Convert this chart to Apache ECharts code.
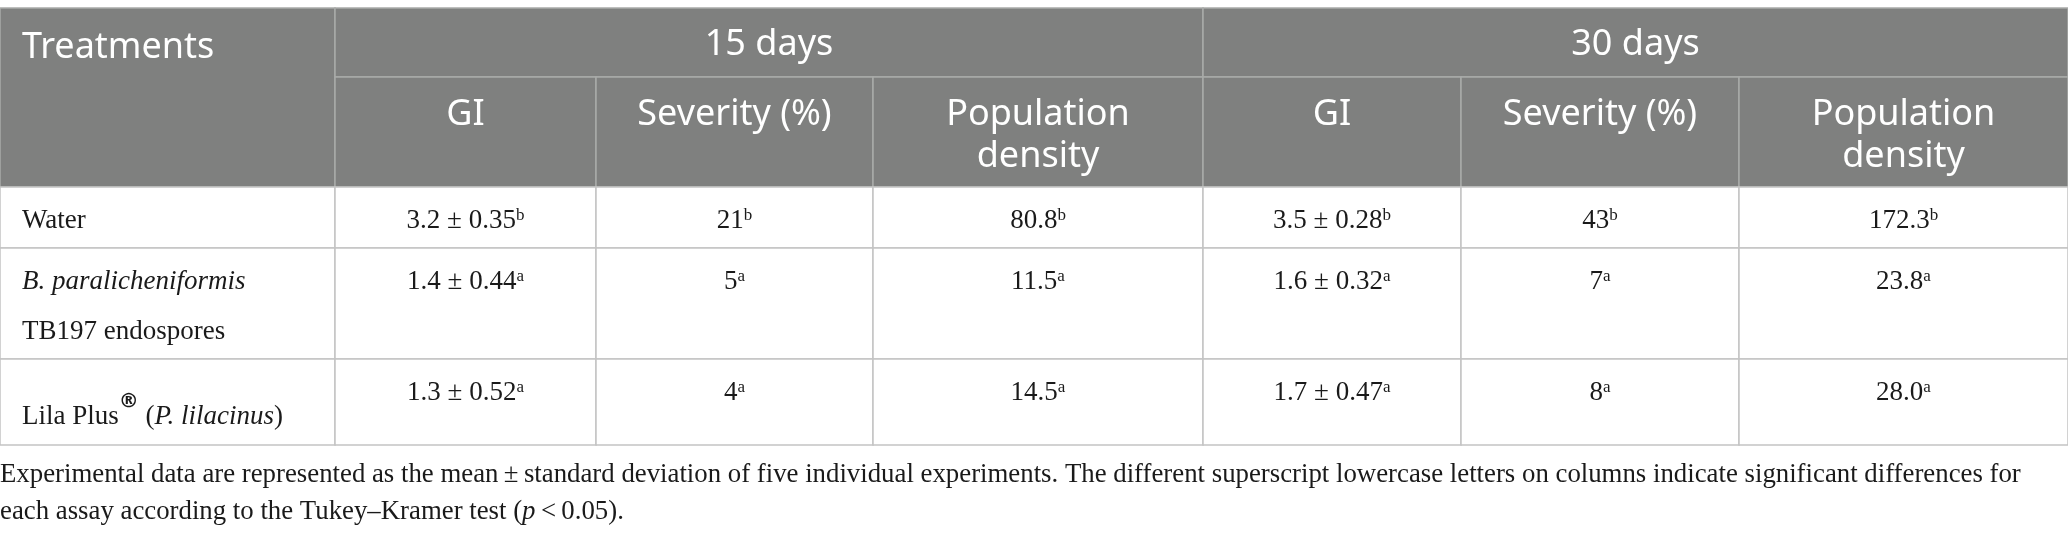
<!DOCTYPE html>
<html>
<head>
<meta charset="utf-8">
<script src="https://cdn.jsdelivr.net/npm/echarts@6/dist/echarts.min.js"></script>
<style>
  html, body { margin: 0; padding: 0; background: #fff; }
  #table { width: 2068px; height: 539px; }
</style>
</head>
<body>
<div id="table"></div>
<script>
// table data
var treatments = ['Water', '{i|B. paralicheniformis}\nTB197 endospores', 'Lila Plus{r|®} ({i|P. lilacinus})'];
var periods = ['15 days', '30 days'];
var measures = ['GI', 'Severity (%)', 'Population\ndensity'];

var giMean15 = [3.2, 1.4, 1.3];
var giSd15 = [0.35, 0.44, 0.52];
var severity15 = [21, 5, 4];
var density15 = [80.8, 11.5, 14.5];

var giMean30 = [3.5, 1.6, 1.7];
var giSd30 = [0.28, 0.32, 0.47];
var severity30 = [43, 7, 8];
var density30 = [172.3, 23.8, 28.0];

var letters = ['b', 'a', 'a'];

var caption = 'Experimental data are represented as the mean\u2009±\u2009standard deviation of five individual experiments. The different superscript lowercase letters on columns indicate significant differences for\n' +
              'each assay according to the Tukey\u2013Kramer test ({i|p}\u2009<\u20090.05).';

// layout
var colEdges = [0, 335, 596, 873, 1203, 1461, 1739, 2068];
var headTop = 8, headMid = 77, headBottom = 187;
var rowEdges = [187, 248, 359, 445];
var labelShift = [0, 0, 24];

var headFill = '#7f807f';
var headLine = '#a9aaa9';
var bodyLine = '#c4c4c4';
var headFont = '"Noto Sans", "Open Sans", sans-serif';
var bodyFont = '"Liberation Serif", "DejaVu Serif", serif';

function sup(s) { return '{s|' + s + '}'; }

var bodyCols = [
  giMean15.map(function (m, i) { return m.toFixed(1) + ' ± ' + giSd15[i].toFixed(2) + sup(letters[i]); }),
  severity15.map(function (v, i) { return v + sup(letters[i]); }),
  density15.map(function (v, i) { return v.toFixed(1) + sup(letters[i]); }),
  giMean30.map(function (m, i) { return m.toFixed(1) + ' ± ' + giSd30[i].toFixed(2) + sup(letters[i]); }),
  severity30.map(function (v, i) { return v + sup(letters[i]); }),
  density30.map(function (v, i) { return v.toFixed(1) + sup(letters[i]); })
];

// cells
var cells = [];
cells.push({ c0: 0, c1: 1, y0: headTop, y1: headBottom, kind: 'head', align: 'left', dy: 40, text: 'Treatments' });
periods.forEach(function (p, k) {
  cells.push({ c0: 1 + k * 3, c1: 4 + k * 3, y0: headTop, y1: headMid, kind: 'head', align: 'center', dy: 37, text: p });
  measures.forEach(function (m, j) {
    cells.push({ c0: 1 + k * 3 + j, c1: 2 + k * 3 + j, y0: headMid, y1: headBottom, kind: 'head', align: 'center', dy: 38, text: m });
  });
});
treatments.forEach(function (t, r) {
  cells.push({ c0: 0, c1: 1, y0: rowEdges[r], y1: rowEdges[r + 1], kind: 'label', align: 'left', dy: 34 + labelShift[r], text: t });
  bodyCols.forEach(function (col, j) {
    cells.push({ c0: 1 + j, c1: 2 + j, y0: rowEdges[r], y1: rowEdges[r + 1], kind: 'value', align: 'center', dy: 34, text: col[r] });
  });
});

function renderCell(params, api) {
  var c = cells[params.dataIndex];
  var x0 = colEdges[c.c0], x1 = colEdges[c.c1];
  var head = c.kind === 'head';
  var lh = head ? 42 : (c.kind === 'label' ? 50 : 28);
  return {
    type: 'group',
    children: [{
      type: 'rect',
      shape: { x: x0, y: c.y0, width: x1 - x0, height: c.y1 - c.y0 },
      style: { fill: head ? headFill : '#fff', stroke: head ? headLine : bodyLine, lineWidth: 1.5 }
    }, {
      type: 'text',
      style: {
        x: c.align === 'left' ? x0 + 22 : (x0 + x1) / 2,
        y: c.y0 + c.dy - lh / 2,
        text: c.text,
        align: c.align,
        verticalAlign: 'top',
        fontFamily: head ? headFont : bodyFont,
        fontSize: head ? 36 : 27,
        lineHeight: lh,
        fill: head ? '#ffffff' : '#1a1a1a',
        rich: {
          s: { fontFamily: bodyFont, fontSize: 17, verticalAlign: 'top', lineHeight: 19, fill: '#1a1a1a' },
          i: { fontFamily: bodyFont, fontStyle: 'italic', fontSize: 27, lineHeight: lh, fill: '#1a1a1a' },
          r: { fontFamily: '"DejaVu Sans", sans-serif', fontWeight: 'bold', fontSize: 20, verticalAlign: 'top', lineHeight: 44, fill: '#1a1a1a' }
        }
      }
    }]
  };
}

var myChart = echarts.init(document.getElementById('table'), null, { renderer: 'canvas' });

var option = {
  animation: false,
  series: [{
    type: 'custom',
    coordinateSystem: 'none',
    renderItem: renderCell,
    data: cells.map(function (c, i) { return [i]; })
  }],
  graphic: [{
    type: 'text',
    left: 0,
    top: 456,
    style: {
      text: caption,
      fontFamily: bodyFont,
      fontSize: 26.8,
      lineHeight: 37,
      fill: '#1a1a1a',
      rich: {
        i: { fontFamily: bodyFont, fontStyle: 'italic', fontSize: 26.8, lineHeight: 37, fill: '#1a1a1a' }
      }
    }
  }]
};

myChart.setOption(option);
</script>
</body>
</html>
